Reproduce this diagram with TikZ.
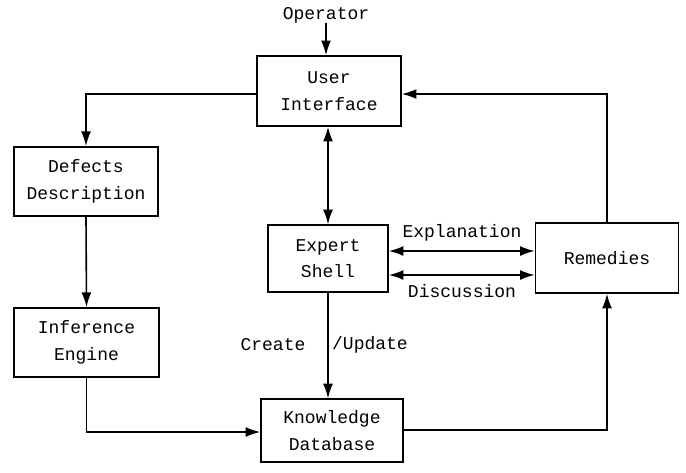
\documentclass[tikz,border=0pt]{standalone}
\usepackage{fontspec}
\setmonofont{Liberation Mono}
\usetikzlibrary{arrows.meta}
\begin{document}
\begin{tikzpicture}[x=0.75pt,y=-0.75pt,
  every node/.style={font=\ttfamily\fontsize{13.5}{20}\selectfont, inner sep=0pt},
  blk/.style={draw, line width=1.2pt, align=center, minimum width=#1*0.75pt},
  lbl/.style={},
  arr/.style={line width=1.2pt, -{Latex[length=11pt,width=7.5pt]}},
  darr/.style={line width=1.2pt, {Latex[length=11pt,width=7.5pt]}-{Latex[length=11pt,width=7.5pt]}}]
\useasboundingbox (0,0) rectangle (686,472);
\node[lbl] (op) at (326,15) {Operator};
\node[blk=144, minimum height=52.5pt] (ui) at (329,91) {User\\Interface};
\node[blk=144, minimum height=52pt] (dd) at (86,181.5) {Defects\\Description};
\node[blk=145, minimum height=52pt] (ie) at (86.5,342.5) {Inference\\Engine};
\node[blk=120, minimum height=50pt] (es) at (328,258.5) {Expert\\Shell};
\node[blk=143, minimum height=52.5pt] (rem) at (607,258) {Remedies};
\node[blk=142, minimum height=47pt] (kd) at (332,430.5) {Knowledge\\Database};
\node[lbl] (expl) at (462,233) {Explanation};
\node[lbl] (disc) at (462,291) {Discussion};
\node[lbl] (cr) at (273,345) {Create};
\node[lbl] (upd) at (370,345) {/Update};
\draw[arr] (op.south) -- (op.south |- ui.north);
\draw[arr] (ui.west |- 0,94) -| (dd.north);
\draw[arr] (dd.south) -- (ie.north);
\draw[arr] (ie.south) |- (kd.west |- 0,432);
\draw[darr] (ui.south -| es.north) -- (es.north);
\draw[arr] (es.south) -- (es.south |- kd.north);
\draw[arr] (kd.east |- 0,430) -| (rem.south);
\draw[arr] (rem.north) |- (ui.east |- 0,94);
\draw[darr] (es.east |- 0,251) -- (rem.west |- 0,251);
\draw[darr] (es.east |- 0,275) -- (rem.west |- 0,275);
\end{tikzpicture}
\end{document}
